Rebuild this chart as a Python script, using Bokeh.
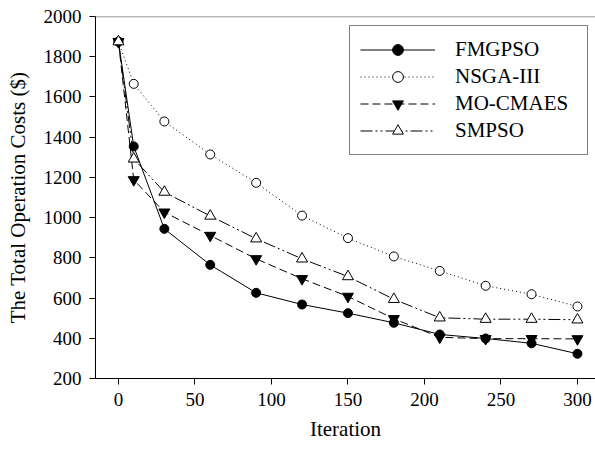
from bokeh.plotting import figure
from bokeh.models import Range1d, Span, Legend, LegendItem
from bokeh.embed import file_html
from bokeh.resources import INLINE

iterations = [0, 10, 30, 60, 90, 120, 150, 180, 210, 240, 270, 300]
fmgpso = [1875, 1354, 944, 765, 626, 568, 525, 477, 419, 399, 375, 323]
nsga3 = [1875, 1665, 1478, 1314, 1173, 1010, 898, 807, 735, 661, 619, 558]
mocmaes = [1875, 1188, 1027, 911, 795, 696, 608, 497, 405, 398, 398, 397]
smpso = [1875, 1292, 1127, 1008, 895, 795, 707, 594, 502, 495, 495, 492]
y_ticks = [200, 400, 600, 800, 1000, 1200, 1400, 1600, 1800, 2000]
x_ticks = [0, 50, 100, 150, 200, 250, 300]

FONT = "Liberation Serif"

p = figure(width=595, height=454, output_backend="svg", toolbar_location=None,
           x_range=Range1d(-15, 311.8), y_range=Range1d(200, 2000),
           min_border_left=95, min_border_right=0, min_border_top=16, min_border_bottom=76)
p.outline_line_color = None
p.xgrid.visible = False
p.ygrid.visible = False
p.background_fill_color = "white"

for ax in (p.xaxis[0], p.yaxis[0]):
    ax.axis_line_color = "black"
    ax.axis_line_width = 1
    ax.major_tick_line_color = "black"
    ax.major_tick_in = 0
    ax.major_tick_out = 6
    ax.minor_tick_line_color = None
    ax.major_label_text_font = FONT
    ax.major_label_text_font_size = "19px"
    ax.major_label_text_color = "black"
    ax.axis_label_text_font = FONT
    ax.axis_label_text_font_size = "21px"
    ax.axis_label_text_font_style = "normal"
    ax.axis_label_text_color = "black"

p.xaxis.ticker = x_ticks
p.yaxis.ticker = y_ticks
p.xaxis.axis_label = "Iteration"
p.yaxis.axis_label = "The Total Operation Costs ($)"
p.xaxis.major_label_standoff = 8
p.yaxis.major_label_standoff = 8
p.xaxis.axis_label_standoff = 8
p.yaxis.axis_label_standoff = 11

p.add_layout(Span(location=2000, dimension="width", line_color="#777777", line_width=1.5))

l1 = p.line(iterations, fmgpso, line_color="black", line_width=1)
m1 = p.scatter(iterations, fmgpso, marker="circle", size=9, fill_color="black", line_color="black")
l2 = p.line(iterations, nsga3, line_color="black", line_width=1, line_dash="1 3")
m2 = p.scatter(iterations, nsga3, marker="circle", size=9, fill_color="white", line_color="black")
l3 = p.line(iterations, mocmaes, line_color="black", line_width=1, line_dash="8 4")
m3 = p.scatter(iterations, mocmaes, marker="inverted_triangle", size=11, fill_color="black", line_color="black")
l4 = p.line(iterations, smpso, line_color="black", line_width=1, line_dash="12 3 2 3 2 3")
m4 = p.scatter(iterations, smpso, marker="triangle", size=11, fill_color="white", line_color="black")

legend = Legend(items=[
    LegendItem(label="FMGPSO", renderers=[l1, m1]),
    LegendItem(label="NSGA-III", renderers=[l2, m2]),
    LegendItem(label="MO-CMAES", renderers=[l3, m3]),
    LegendItem(label="SMPSO", renderers=[l4, m4]),
], location=(254, 223))
legend.label_text_font = FONT
legend.label_text_font_size = "21px"
legend.label_text_color = "black"
legend.glyph_width = 75
legend.glyph_height = 27
legend.label_height = 27
legend.label_width = 122
legend.label_standoff = 20
legend.spacing = 0
legend.padding = 10
legend.margin = 0
legend.border_line_color = "black"
legend.border_line_width = 1
legend.background_fill_color = "white"
legend.background_fill_alpha = 1
p.add_layout(legend)

open("out.html", "w").write(file_html(p, INLINE))
